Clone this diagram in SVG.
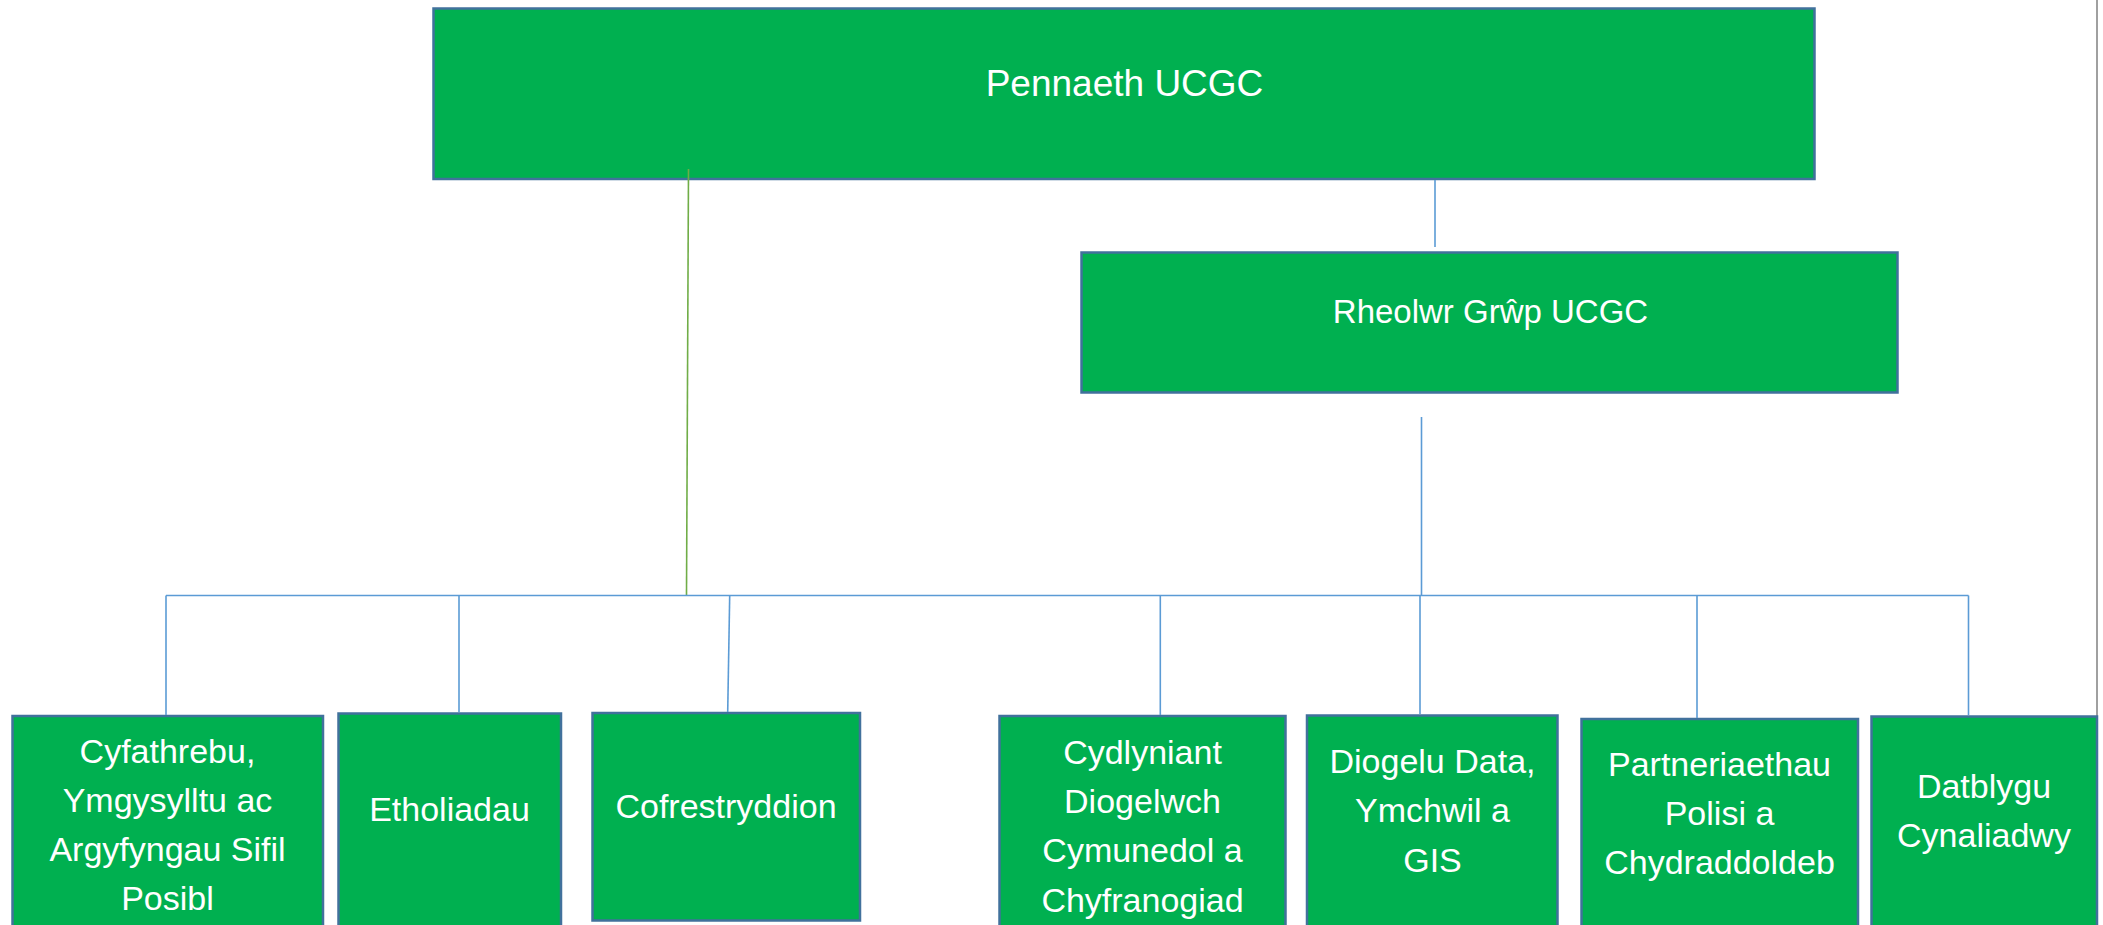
<svg xmlns="http://www.w3.org/2000/svg" width="2103" height="925" viewBox="0 0 2103 925">
<style>
.box{fill:#00B050;stroke:#41719C;stroke-width:2.5}
.lbl{font-family:"Liberation Sans",Arial,sans-serif;font-size:34px;fill:#FFFFFF;text-anchor:middle}
.big{font-size:37px}
.mid{font-size:33px}
.ln{stroke:#5B9BD5;stroke-width:1.6;fill:none}
.gl{stroke:#70AD47;stroke-width:1.6;fill:none}
</style>
<rect x="0" y="0" width="2103" height="925" fill="#FFFFFF"/>
<line x1="2097" y1="0" x2="2097" y2="716" stroke="#A0A0A0" stroke-width="2"/>
<g id="pennaeth">
<rect class="box" x="433.5" y="8.5" width="1381" height="170.5"/>
<text class="lbl big" x="1124.5" y="96">Pennaeth UCGC</text>
</g>
<g id="rheolwr">
<rect class="box" x="1081.5" y="252.5" width="816" height="140"/>
<text class="lbl mid" x="1490.5" y="323">Rheolwr Grŵp UCGC</text>
</g>
<g id="cyfathrebu">
<rect class="box" x="12.5" y="716" width="310.5" height="220"/>
<text class="lbl" x="167.5" y="763">Cyfathrebu,</text>
<text class="lbl" x="167.5" y="812">Ymgysylltu ac</text>
<text class="lbl" x="167.5" y="861">Argyfyngau Sifil</text>
<text class="lbl" x="167.5" y="910">Posibl</text>
</g>
<g id="etholiadau">
<rect class="box" x="338.5" y="713.5" width="222.5" height="222"/>
<text class="lbl" x="449.5" y="821">Etholiadau</text>
</g>
<g id="cofrestryddion">
<rect class="box" x="592.5" y="713" width="267.5" height="207.5"/>
<text class="lbl" x="726" y="818">Cofrestryddion</text>
</g>
<g id="cydlyniant">
<rect class="box" x="999.5" y="716" width="286" height="220"/>
<text class="lbl" x="1142.5" y="764">Cydlyniant</text>
<text class="lbl" x="1142.5" y="813">Diogelwch</text>
<text class="lbl" x="1142.5" y="862">Cymunedol a</text>
<text class="lbl" x="1142.5" y="912">Chyfranogiad</text>
</g>
<g id="diogelu">
<rect class="box" x="1307" y="715.5" width="250.5" height="220"/>
<text class="lbl" x="1432.5" y="773">Diogelu Data,</text>
<text class="lbl" x="1432.5" y="822">Ymchwil a</text>
<text class="lbl" x="1432.5" y="872">GIS</text>
</g>
<g id="partneriaethau">
<rect class="box" x="1581.5" y="719" width="276.5" height="220"/>
<text class="lbl" x="1719.5" y="776">Partneriaethau</text>
<text class="lbl" x="1719.5" y="825">Polisi a</text>
<text class="lbl" x="1719.5" y="874">Chydraddoldeb</text>
</g>
<g id="datblygu">
<rect class="box" x="1871.5" y="716.5" width="225.5" height="220"/>
<text class="lbl" x="1984" y="798">Datblygu</text>
<text class="lbl" x="1984" y="847">Cynaliadwy</text>
</g>
<g id="connectors">
<line class="ln" x1="1435" y1="180" x2="1435" y2="247"/>
<line class="ln" x1="1421.5" y1="417" x2="1421.5" y2="595.5"/>
<line class="gl" x1="688.5" y1="169" x2="686.5" y2="595.5"/>
<line class="ln" x1="166" y1="595.5" x2="1968.5" y2="595.5"/>
<line class="ln" x1="166" y1="595.5" x2="166" y2="715"/>
<line class="ln" x1="459" y1="595.5" x2="459" y2="712"/>
<line class="ln" x1="729.7" y1="595.5" x2="727.7" y2="712"/>
<line class="ln" x1="1160.3" y1="595.5" x2="1160.3" y2="715"/>
<line class="ln" x1="1420" y1="595.5" x2="1420" y2="714"/>
<line class="ln" x1="1697" y1="595.5" x2="1697" y2="718"/>
<line class="ln" x1="1968.5" y1="595.5" x2="1968.5" y2="715"/>
</g>
</svg>
